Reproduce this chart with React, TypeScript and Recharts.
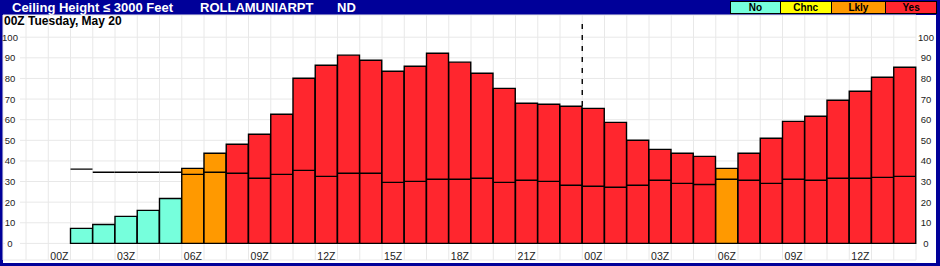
import React from "react";
import {
  ComposedChart,
  Bar,
  Cell,
  XAxis,
  YAxis,
  CartesianGrid,
  ReferenceLine,
} from "recharts";

// one slot per hour, slot 1 = 00Z Tuesday
const slots = Array.from({ length: 40 }, (_, i) => i);
const ceilingPct = [
  null, null, 7.3, 9.2, 13.1, 16.0, 21.8, 36.4, 43.7, 48.1,
  52.9, 62.6, 80.1, 86.4, 91.3, 88.8, 83.5, 85.9, 92.2, 87.9,
  82.5, 75.2, 68.0, 67.5, 66.5, 65.5, 58.7, 50.0, 45.6, 43.7,
  42.2, 36.4, 43.7, 51.0, 59.2, 61.7, 69.4, 73.8, 80.6, 85.4,
];
const midValues = [
  null, null, 36.0, 34.5, 34.5, 34.5, 34.5, 33.5, 34.5, 34.0,
  31.6, 33.5, 35.4, 32.5, 34.0, 34.0, 29.6, 30.1, 31.1, 31.1,
  31.6, 29.6, 30.6, 30.1, 28.2, 27.7, 27.2, 28.2, 30.6, 29.1,
  28.6, 31.1, 30.6, 29.1, 31.1, 30.6, 31.6, 31.6, 32.0, 32.5,
];
const category = [
  "", "", "No", "No", "No", "No", "No", "Lkly", "Lkly", "Yes",
  "Yes", "Yes", "Yes", "Yes", "Yes", "Yes", "Yes", "Yes", "Yes", "Yes",
  "Yes", "Yes", "Yes", "Yes", "Yes", "Yes", "Yes", "Yes", "Yes", "Yes",
  "Yes", "Lkly", "Yes", "Yes", "Yes", "Yes", "Yes", "Yes", "Yes", "Yes",
];
const hourTicks = [1.5, 4.5, 7.5, 10.5, 13.5, 16.5, 19.5, 22.5, 25.5, 28.5, 31.5, 34.5, 37.5];
const hourLabels = ["00Z", "03Z", "06Z", "09Z", "12Z", "15Z", "18Z", "21Z", "00Z", "03Z", "06Z", "09Z", "12Z"];
const yTicks = [0, 10, 20, 30, 40, 50, 60, 70, 80, 90, 100];
const boundaries = Array.from({ length: 41 }, (_, i) => i);
const nowSlot = 25;

const legendItems = ["No", "Chnc", "Lkly", "Yes"];
const colors: Record<string, string> = {
  No: "#76FFDC",
  Chnc: "#FFFF00",
  Lkly: "#FF9900",
  Yes: "#FF262E",
};

const data = slots.map((s, i) => ({
  slot: s,
  pos: s + 0.5,
  value: ceilingPct[i],
  mid: midValues[i],
  cat: category[i],
}));

const NAVY = "#000099";
const FONT = "Arial, 'Liberation Sans', sans-serif";

const MidLine = (props: any) => {
  const { x, y, width } = props;
  if (x == null || y == null) return null;
  return <line x1={x} x2={x + width} y1={y} y2={y} stroke="#000" strokeWidth={1.4} />;
};

const LeftTick = ({ x, y, payload }: any) => (
  <g>
    <rect x={x + 2} y={y - 5} width={15} height={10} fill="#fff" />
    <text x={x + 7} y={y + 3.5} textAnchor="middle" fontSize={9.5} fill="#222" fontFamily={FONT}>
      {payload.value}
    </text>
  </g>
);

const RightTick = ({ x, y, payload }: any) => (
  <text x={x + 10} y={y + 3.5} textAnchor="middle" fontSize={9.5} fill="#222" fontFamily={FONT}>
    {payload.value}
  </text>
);

const HourTick = ({ x, y, index }: any) => (
  <text x={x} y={y} textAnchor="middle" fontSize={10.5} fill="#222" fontFamily={FONT}>
    {hourLabels[index] ?? ""}
  </text>
);

export default function App() {
  return (
    <div style={{ position: "absolute", left: 0, top: 0, width: 940, height: 266, background: NAVY, fontFamily: FONT }}>
      <div style={{ position: "absolute", left: 3, top: 15, width: 933, height: 248, background: "#fff" }} />
      <div style={{ position: "absolute", left: 12, top: 0, height: 15, lineHeight: "15px", color: "#fff", fontWeight: "bold", fontSize: 13, whiteSpace: "pre" }}>
        <span>Ceiling Height ≤ 3000 Feet</span>
        <span style={{ position: "absolute", left: 188 }}>ROLLAMUNIARPT</span>
        <span style={{ position: "absolute", left: 325 }}>ND</span>
      </div>
      <div style={{ position: "absolute", left: 730, top: 1, display: "flex", border: "1px solid #000", boxSizing: "border-box", width: 207, height: 13 }}>
        {legendItems.map((k, i) => (
          <div
            key={k}
            style={{
              width: [50, 51, 55, 51][i],
              background: colors[k],
              borderLeft: i ? "1px solid #000" : "none",
              textAlign: "center",
              fontSize: 10,
              fontWeight: "bold",
              lineHeight: "11px",
              color: "#000",
            }}
          >
            {k}
          </div>
        ))}
      </div>
      <div style={{ position: "absolute", left: 0, top: 0 }}>
        <ComposedChart width={940} height={266} data={data} margin={{ top: 15, right: 0, bottom: 0, left: 0 }} barCategoryGap={0} barGap={0}>
          <XAxis
            xAxisId="n"
            type="number"
            dataKey="pos"
            domain={[0, 40]}
            allowDataOverflow
            ticks={hourTicks}
            padding={{ left: 23, right: 0 }}
            height={6}
            tickSize={0}
            tickMargin={0}
            axisLine={false}
            tick={<HourTick />}
            interval={0}
          />
          <XAxis xAxisId="c" dataKey="slot" hide height={0} padding={{ left: 23, right: 0 }} />
          <XAxis xAxisId="m" dataKey="slot" hide height={0} padding={{ left: 23, right: 0 }} />
          <XAxis xAxisId="g" type="number" dataKey="pos" domain={[0, 40]} allowDataOverflow ticks={boundaries} interval={0} hide height={0} padding={{ left: 23, right: 0 }} />
          <YAxis yAxisId="l" domain={[-8.05, 110.77]} ticks={yTicks} width={3} tickSize={0} tickMargin={0} axisLine={false} tick={<LeftTick />} interval={0} allowDataOverflow />
          <YAxis yAxisId="r" orientation="right" domain={[-8.05, 110.77]} ticks={yTicks} width={24} tickSize={0} tickMargin={0} axisLine={false} tick={<RightTick />} interval={0} allowDataOverflow />
          <CartesianGrid xAxisId="g" yAxisId="l" stroke="#e8e8e8" strokeWidth={1} />
          <ReferenceLine
            xAxisId="n"
            yAxisId="l"
            segment={[{ x: nowSlot, y: 106.4 }, { x: nowSlot, y: 66.5 }]}
            stroke="#000"
            strokeWidth={1.4}
            strokeDasharray="5 6"
          />
          <Bar xAxisId="c" yAxisId="l" dataKey="value" stroke="#000" strokeWidth={1.4} isAnimationActive={false}>
            {data.map((d, i) => (
              <Cell key={i} fill={colors[d.cat] ?? "none"} />
            ))}
          </Bar>
          <Bar xAxisId="m" yAxisId="l" dataKey="mid" shape={<MidLine />} isAnimationActive={false} />
        </ComposedChart>
      </div>
      <div style={{ position: "absolute", left: 4, top: 14, fontSize: 12, fontWeight: "bold", color: "#000", lineHeight: "14px" }}>
        00Z Tuesday, May 20
      </div>
    </div>
  );
}
